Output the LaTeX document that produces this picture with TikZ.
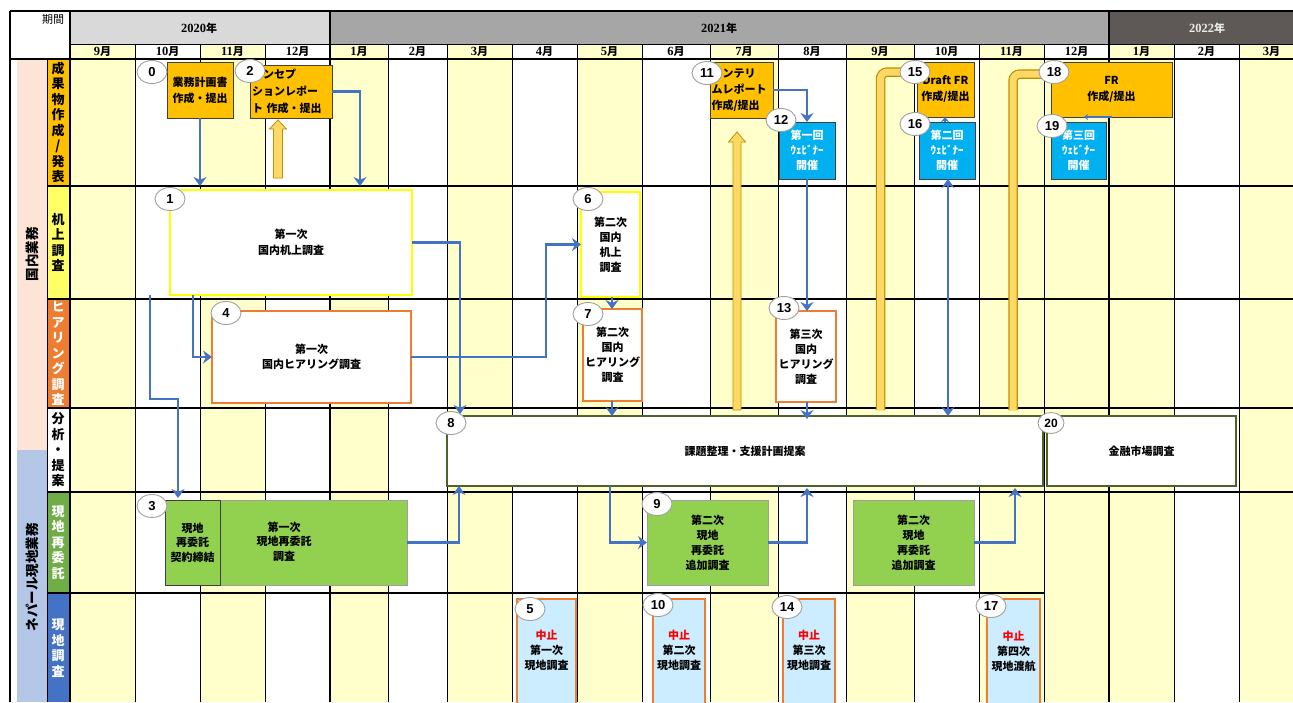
\documentclass[tikz,border=0pt]{standalone}
\usepackage{fontspec}
\setmainfont{Noto Sans CJK JP}
\newfontfamily\numserif{Liberation Serif}
\newfontfamily\latinsans{Liberation Sans}
\usetikzlibrary{shapes.geometric,arrows.meta,calc}
\definecolor{ycell}{HTML}{FFFFCC}
\definecolor{gA}{HTML}{D9D9D9}
\definecolor{gB}{HTML}{A6A6A6}
\definecolor{gC}{HTML}{5E5957}
\definecolor{gold}{HTML}{FFC000}
\definecolor{lyel}{HTML}{FFFF66}
\definecolor{yelb}{HTML}{FFFF00}
\definecolor{orng}{HTML}{ED7D31}
\definecolor{grn}{HTML}{92D050}
\definecolor{grnlab}{HTML}{70AD47}
\definecolor{blu}{HTML}{4472C4}
\definecolor{webblue}{HTML}{00B0F0}
\definecolor{stopfill}{HTML}{CCECFF}
\definecolor{dgreen}{HTML}{4F6228}
\definecolor{pinkg}{HTML}{FCE4D6}
\definecolor{blueg}{HTML}{B4C7E7}
\definecolor{barfill}{HTML}{FFD966}
\definecolor{barline}{HTML}{BF9000}
\definecolor{dkgray}{HTML}{404040}
\newcommand\mlab[1]{{\numserif\bfseries\fontsize{12.5}{13}\selectfont #1}{\bfseries\fontsize{11}{13}\selectfont 月}}
\newcommand\ylab[1]{{\numserif\bfseries\fontsize{12.5}{13}\selectfont #1}{\bfseries\fontsize{11}{13}\selectfont 年}}
\begin{document}
\begin{tikzpicture}[x=1pt,y=-1pt,
  bx/.style={rectangle, inner sep=0pt, outer sep=0pt, align=center, font=\fontsize{11}{15}\selectfont\bfseries},
  outbox/.style={bx, fill=gold, draw=dkgray, line width=0.8pt},
  webbox/.style={bx, fill=webblue, draw=dkgray, line width=1pt, text=white},
  deskbox/.style={bx, fill=white, draw=yelb, line width=2pt},
  hearbox/.style={bx, fill=white, draw=orng, line width=1.8pt},
  anabox/.style={bx, fill=white, draw=dgreen, line width=2pt},
  grnbox/.style={bx, fill=grn, draw=gray!75, line width=1pt},
  stopbox/.style={bx, fill=stopfill, draw=orng, line width=1.8pt},
  txt/.style={align=center, inner sep=0pt, font=\fontsize{11}{15}\selectfont\bfseries},
  num/.style={ellipse, fill=white, draw=gray!75, line width=0.9pt, minimum width=30pt, minimum height=23pt, inner sep=0pt, font=\latinsans\bfseries\fontsize{13}{13}\selectfont},
  arr/.style={draw=blu, line width=2.8pt, -{Stealth[length=9pt,width=13pt,inset=3pt]}},
  darr/.style={draw=blu, line width=2.8pt, {Stealth[length=9pt,width=13pt,inset=3pt]}-{Stealth[length=9pt,width=13pt,inset=3pt]}},
  yarr/.style={fill=barfill, draw=barline, line width=0.8pt},
  barout/.style={line width=9.5pt, draw=barline, rounded corners=7pt},
  barin/.style={line width=7pt, draw=barfill, rounded corners=7pt},
  rowlab/.style={align=center, inner sep=0pt, font=\fontsize{13}{15.5}\selectfont\bfseries},
  grplab/.style={inner sep=0pt, rotate=90, font=\fontsize{13.5}{14}\selectfont\bfseries},
  hline/.style={line width=1.6pt},
  vline/.style={line width=0.7pt}
]
\useasboundingbox (0,0) rectangle (1293,702);
\fill[white] (0,0) rectangle (1293,702);

% month columns
\foreach \xa/\xb/\mm/\cb/\ch in {
70/135/9/ycell/ycell, 135/200/10/white/white, 200/265/11/ycell/ycell, 265/330/12/white/white,
330/388/1/ycell/ycell, 388/447/2/white/white, 447/512/3/ycell/ycell, 512/577/4/white/white,
577/642/5/ycell/ycell, 642/710/6/white/white, 710/778/7/ycell/ycell, 778/846/8/white/white,
846/914/9/ycell/ycell, 914/979/10/white/white, 979/1044/11/ycell/ycell, 1044/1109/12/ycell/white,
1109/1174/1/ycell/ycell, 1174/1239/2/white/white, 1239/1304/3/ycell/ycell}
{
  \fill[\cb] (\xa,59) rectangle (\xb,702);
  \fill[\ch] (\xa,44) rectangle (\xb,59);
  \node[inner sep=0pt] at ({(\xa+\xb)/2},52) {\mlab{\mm}};
  \draw[vline] (\xa,44) -- (\xa,702);
}

% year row
\fill[gA] (70,11) rectangle (330,44);
\fill[gB] (330,11) rectangle (1109,44);
\fill[gC] (1109,11) rectangle (1293,44);
\node[inner sep=0pt] at (199,28) {\ylab{2020}};
\node[inner sep=0pt] at (719,28) {\ylab{2021}};
\node[inner sep=0pt, text=white!92!black] at (1207,28) {\ylab{2022}};
\node[inner sep=0pt, font=\fontsize{11}{12}\selectfont] at (53,19) {期間};

% left label columns
\fill[pinkg] (17,59) rectangle (47,450);
\fill[blueg] (17,450) rectangle (47,702);
\node[grplab] at (32,254) {国内業務};
\node[grplab] at (32,577) {ネパール現地業務};

\fill[gold] (47,59) rectangle (70,186);
\fill[lyel] (47,186) rectangle (70,299);
\fill[orng] (47,299) rectangle (70,408);
\fill[white] (47,408) rectangle (70,492);
\fill[grnlab] (47,492) rectangle (70,593);
\fill[blu] (47,593) rectangle (70,702);
\begin{scope}
\clip (47,59) rectangle (70,702);
\node[rowlab] at (58,122.5) {成\\果\\物\\作\\成\\/\\発\\表};
\node[rowlab] at (58,242.5) {机\\上\\調\\査};
\node[rowlab, text=white] at (58,353.5) {ヒ\\ア\\リ\\ン\\グ\\調\\査};
\node[rowlab] at (58,450) {分\\析\\・\\提\\案};
\node[rowlab, text=white] at (58,542.5) {現\\地\\再\\委\\託};
\node[rowlab, text=white] at (58,648) {現\\地\\調\\査};
\end{scope}

% frame lines
\draw[hline] (10,11) -- (1293,11);
\draw[line width=1pt] (70,44) -- (1293,44);
\draw[hline] (10,59) -- (1293,59);
\draw[hline] (10,11) -- (10,702);
\draw[line width=1.3pt] (70,11) -- (70,702);
\draw[line width=1pt] (47,59) -- (47,702);
\draw[line width=1.5pt] (330,11) -- (330,702);
\draw[line width=1.5pt] (1109,11) -- (1109,702);
\foreach \yy in {186,299,408,492} { \draw[hline] (47,\yy) -- (1293,\yy); }
\draw[hline] (47,593) -- (1044,593);

% yellow bars and block arrows
\draw[barout] (880.5,410) -- (880.5,72) -- (916,72);
\draw[barin] (880.5,410.5) -- (880.5,72) -- (916,72);
\draw[barout] (1013,410) -- (1013,74) -- (1052,74);
\draw[barin] (1013,410.5) -- (1013,74) -- (1052,74);
\draw[yarr] (278,120) -- (286.5,129) -- (282.5,129) -- (282.5,178) -- (273.5,178) -- (273.5,129) -- (269.5,129) -- cycle;
\draw[yarr] (737,132) -- (745.5,142) -- (741,142) -- (741,410) -- (733,410) -- (733,142) -- (728.5,142) -- cycle;

% boxes
\node[outbox, minimum width=66pt, minimum height=56pt, font=\fontsize{11}{16}\selectfont\bfseries] (b0) at (200,90) {業務計画書\\作成・提出};
\node[outbox, minimum width=82pt, minimum height=53pt, align=left, text width=78pt, font=\fontsize{11}{17}\selectfont\bfseries] (b2) at (291,91.5) {インセプ\\ションレポー\\ト 作成・提出};
\node[outbox, minimum width=63pt, minimum height=56pt, align=left, text width=60pt, font=\fontsize{11}{16}\selectfont\bfseries] (b11) at (741.5,90) {インテリ\\ムレポート\\作成/提出};
\node[webbox, minimum width=56pt, minimum height=57pt] (b12) at (807,150.5) {第一回\\ｳｪﾋﾞﾅｰ\\開催};
\node[outbox, minimum width=57pt, minimum height=55pt, font=\fontsize{11}{16}\selectfont\bfseries] (b15) at (945.5,89.5) {Draft FR\\作成/提出};
\node[webbox, minimum width=56pt, minimum height=57pt] (b16) at (947,150.5) {第二回\\ｳｪﾋﾞﾅｰ\\開催};
\node[outbox, minimum width=121pt, minimum height=55pt, font=\fontsize{11}{16}\selectfont\bfseries] (b18) at (1111.5,89.5) {FR\\作成/提出};
\node[webbox, minimum width=55pt, minimum height=57pt] (b19) at (1078.5,150.5) {第三回\\ｳｪﾋﾞﾅｰ\\開催};

\node[deskbox, minimum width=242pt, minimum height=105pt, font=\fontsize{11}{16}\selectfont\bfseries] (b1) at (291,242.5) {第一次\\国内机上調査};
\node[deskbox, minimum width=59pt, minimum height=105pt] (b6) at (610.5,244.5) {第二次\\国内\\机上\\調査};
\node[hearbox, minimum width=199pt, minimum height=92pt] (b4) at (311.5,357) {第一次\\国内ヒアリング調査};
\node[hearbox, minimum width=59pt, minimum height=92pt] (b7) at (612.5,355) {第二次\\国内\\ヒアリング\\調査};
\node[hearbox, minimum width=60pt, minimum height=91pt] (b13) at (806,356.5) {第三次\\国内\\ヒアリング\\調査};

\node[anabox, minimum width=596pt, minimum height=70pt] (b8) at (745,451) {課題整理・支援計画提案};
\node[anabox, minimum width=189pt, minimum height=70pt] (b20) at (1141.5,451) {金融市場調査};

\node[grnbox, minimum width=187pt, minimum height=85pt] (b3b) at (313.5,542.5) {};
\node[txt, font=\fontsize{11}{14.5}\selectfont\bfseries] at (284,541.5) {第一次\\現地再委託\\調査};
\node[grnbox, draw=dkgray, minimum width=55pt, minimum height=85pt, font=\fontsize{11}{14.5}\selectfont\bfseries] (b3a) at (192.5,542.5) {現地\\再委託\\契約締結};
\node[grnbox, minimum width=121pt, minimum height=85pt] (b9) at (707.5,542.5) {第二次\\現地\\再委託\\追加調査};
\node[grnbox, minimum width=121pt, minimum height=85pt] (b9b) at (913.5,542.5) {第二次\\現地\\再委託\\追加調査};

\node[stopbox, minimum width=59pt, minimum height=110pt] (b5) at (546.5,654) {};
\node[txt] at (546.5,650) {\textcolor{red}{中止}\\第一次\\現地調査};
\node[stopbox, minimum width=52pt, minimum height=110pt] (b10) at (679,654) {};
\node[txt] at (679,650) {\textcolor{red}{中止}\\第二次\\現地調査};
\node[stopbox, minimum width=52pt, minimum height=110pt] (b14) at (809,654) {};
\node[txt] at (809,650) {\textcolor{red}{中止}\\第三次\\現地調査};
\node[stopbox, minimum width=53pt, minimum height=110pt] (b17) at (1013.5,654) {};
\node[txt] at (1013.5,651) {\textcolor{red}{中止}\\第四次\\現地渡航};

% connectors
\draw[arr, shorten >=4pt] (b0.south) -- (b0.south |- b1.north);
\draw[arr, shorten >=4pt] (b2.east) -| (b1.north -| 360,0);
\draw[arr] (b1.south -| 193,0) |- (b4.west);
\draw[arr, shorten >=2pt] (b1.south -| 150,0) -- (150,399) -| (b3a.north -| 178,0);
\draw[arr, shorten >=2pt] (b1.east) -| (b8.north -| 460,0);
\draw[arr] (b4.east) -| (546,300) |- (b6.west);
\draw[arr] (b6.south -| 612,0) -- (b7.north -| 612,0);
\draw[arr] (b7.south -| 612,0) -- (b8.north -| 612,0);
\draw[arr] (b3b.east) -| (b8.south -| 459,0);
\draw[arr] (b8.south -| 610,0) |- (b9.west);
\draw[arr, shorten >=2pt] (b9.east) -| (b8.south -| 807,0);
\draw[arr, shorten >=2pt] (b9b.east) -| (b8.south -| 1015,0);
\draw[arr] (b11.east) -| (b12.north);
\draw[arr] (b12.south) -- (b13.north -| b12.south);
\draw[arr, shorten >=-3pt] (b13.south -| 807,0) -- (b8.north -| 807,0);
\draw[darr] (b16.south -| 948,0) -- (b8.north -| 948,0);
\draw[draw=blu, line width=1.5pt, -{Stealth[length=5pt,width=8pt]}] (b16.north -| 945,0) -- (b15.south -| 945,0);
\draw[draw=blu, line width=1.5pt, -{Stealth[length=4pt,width=6pt]}] (b18.south -| 1112,0) -- (b18.south -| 1084,0);

% numbers
\node[num] (n0) at (152,72) {0};
\node[num] (n2) at (250,71) {2};
\node[num] (n1) at (170,199) {1};
\node[num] (n4) at (226,313) {4};
\node[num] (n3) at (152,506) {3};
\node[num] (n8) at (451,423) {8};
\node[num] (n6) at (588,199) {6};
\node[num] (n7) at (588,314) {7};
\node[num] (n13) at (784,308) {13};
\node[num] (n9) at (657,504) {9};
\node[num] (n5) at (530,609) {5};
\node[num] (n10) at (658,605) {10};
\node[num] (n14) at (787,607) {14};
\node[num] (n11) at (707,73) {11};
\node[num] (n12) at (781,120) {12};
\node[num] (n15) at (915,72) {15};
\node[num] (n16) at (915,124) {16};
\node[num] (n18) at (1054,72) {18};
\node[num] (n19) at (1052,126) {19};
\node[num] (n17) at (991,606) {17};
\node[num, minimum width=26pt, minimum height=21pt, font=\latinsans\bfseries\fontsize{12}{12}\selectfont] (n20) at (1051,423) {20};
\end{tikzpicture}
\end{document}
